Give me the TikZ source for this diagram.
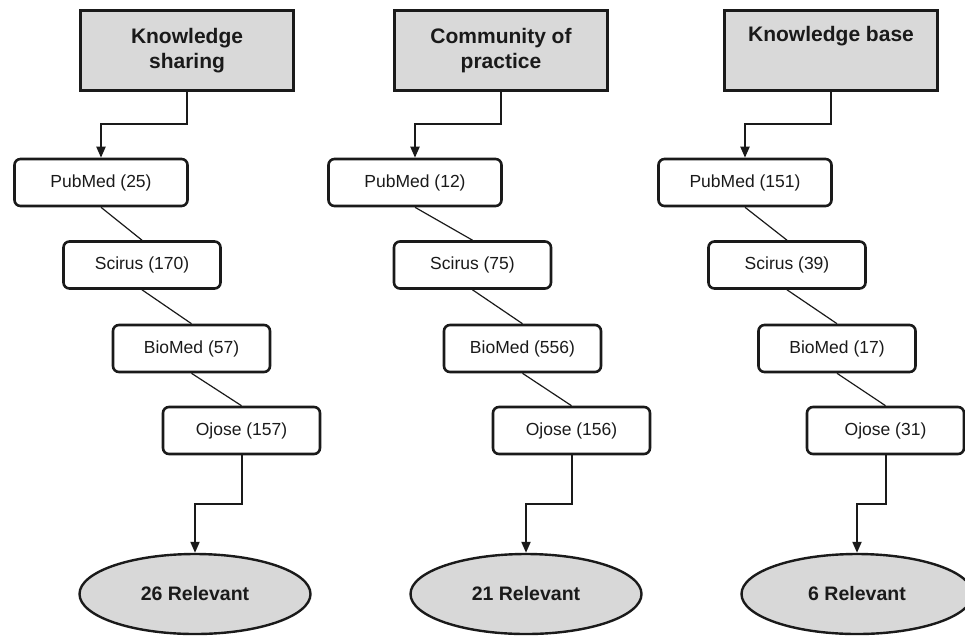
\documentclass[tikz,border=0pt]{standalone}
\usepackage{fontspec}
\setmainfont{Liberation Sans}
\usetikzlibrary{shapes.geometric,arrows.meta}
\definecolor{hdrgray}{HTML}{D9D9D9}
\definecolor{ellgray}{HTML}{D8D8D8}
\definecolor{inkline}{HTML}{1A1A1A}
\tikzset{
  hdrbox/.style={draw=inkline, line width=3pt, fill=hdrgray, minimum width=213pt, minimum height=80pt, inner sep=0pt, align=center, text=inkline, font=\fontsize{21}{25}\selectfont\bfseries},
  dbbox/.style={draw=inkline, line width=2.6pt, rounded corners=6pt, minimum height=47pt, inner sep=0pt, text=inkline, font=\fontsize{17.5}{20}\selectfont},
  wbox/.style={dbbox, minimum width=157pt},
  pbox/.style={dbbox, minimum width=173pt},
  relell/.style={draw=inkline, ellipse, line width=2.4pt, fill=ellgray, minimum width=231pt, minimum height=80pt, inner sep=0pt, text=inkline, font=\fontsize{19.5}{22}\selectfont\bfseries},
  flowarrow/.style={draw=inkline, line width=2pt, -{Triangle[length=11pt,width=9pt]}},
  thinlink/.style={draw=inkline, line width=1.2pt}
}
\begin{document}
\begin{tikzpicture}[x=1pt,y=-1pt]
\useasboundingbox (0,0) rectangle (965,638);
% column 1
\node[hdrbox] (h1) at (187,50.5) {Knowledge\\sharing};
\node[pbox] (p1) at (101,182.5) {PubMed (25)};
\node[wbox] (s1) at (142,265) {Scirus (170)};
\node[wbox] (b1) at (191.5,348.5) {BioMed (57)};
\node[wbox] (o1) at (241.5,430.5) {Ojose (157)};
\node[relell] (r1) at (195,594) {26 Relevant};
% column 2
\node[hdrbox] (h2) at (501,50.5) {Community of\\practice};
\node[pbox] (p2) at (415,182.5) {PubMed (12)};
\node[wbox] (s2) at (472.5,265) {Scirus (75)};
\node[wbox] (b2) at (522.5,348.5) {BioMed (556)};
\node[wbox] (o2) at (571.5,430.5) {Ojose (156)};
\node[relell] (r2) at (526,594) {21 Relevant};
% column 3
\node[hdrbox] (h3) at (831,50.5) {Knowledge base\\\strut};
\node[pbox] (p3) at (745,182.5) {PubMed (151)};
\node[wbox] (s3) at (787,265) {Scirus (39)};
\node[wbox] (b3) at (837,348.5) {BioMed (17)};
\node[wbox] (o3) at (885.5,430.5) {Ojose (31)};
\node[relell] (r3) at (857,594) {6 Relevant};
% connectors
\foreach \c in {1,2,3}{
  \draw[flowarrow] (h\c.south) -- ++(0,32) -| (p\c.north);
  \draw[thinlink] (p\c.south) -- (s\c.north);
  \draw[thinlink] (s\c.south) -- (b\c.north);
  \draw[thinlink] (b\c.south) -- (o\c.north);
  \draw[flowarrow] (o\c.south) -- ++(0,49) -| (r\c.north);
}
\end{tikzpicture}
\end{document}
